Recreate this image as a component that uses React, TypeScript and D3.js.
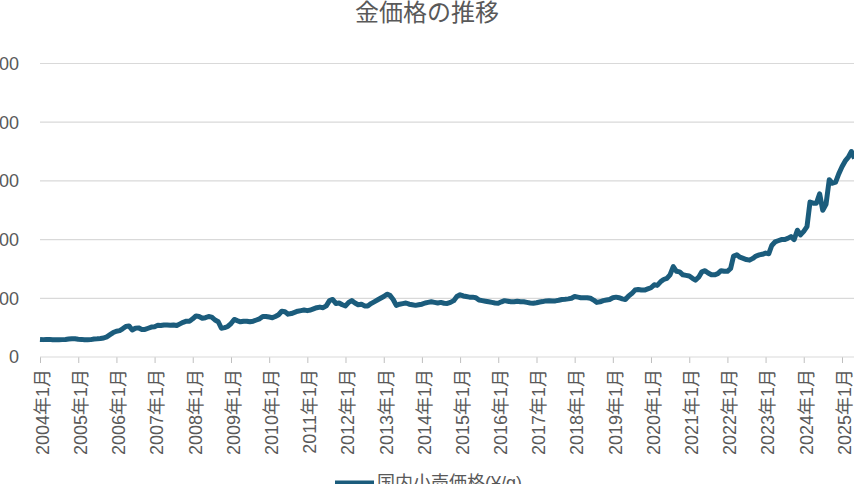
import React, { useEffect, useRef } from 'react';
import * as d3 from 'd3';

const TITLE = '金価格の推移';
const SERIES_NAME = '国内小売価格(¥/g)';
const START_YEAR = 2004;
const YEAR_TICKS = d3.range(2004, 2026);
const Y_TICKS = [0, 5000, 10000, 15000, 20000, 25000];

// monthly retail gold price (yen / gram), Jan..Dec, one array per year
const P2004 = [1500, 1480, 1490, 1500, 1470, 1460, 1470, 1480, 1490, 1530, 1560, 1560];
const P2005 = [1520, 1500, 1470, 1470, 1480, 1530, 1550, 1580, 1620, 1720, 1900, 2080];
const P2006 = [2200, 2250, 2400, 2600, 2650, 2300, 2450, 2480, 2350, 2350, 2450, 2550];
const P2007 = [2580, 2700, 2680, 2730, 2720, 2700, 2730, 2680, 2820, 2950, 3050, 3050];
const P2008 = [3250, 3500, 3450, 3300, 3350, 3450, 3400, 3150, 3000, 2450, 2500, 2600];
const P2009 = [2850, 3200, 3100, 3000, 3050, 3050, 3000, 3050, 3150, 3250, 3450, 3450];
const P2010 = [3400, 3350, 3450, 3600, 3900, 3850, 3650, 3700, 3800, 3900, 3950, 4000];
const P2011 = [3950, 4000, 4100, 4200, 4250, 4200, 4350, 4800, 4900, 4550, 4600, 4450];
const P2012 = [4350, 4650, 4800, 4600, 4450, 4500, 4350, 4350, 4550, 4700, 4850, 5000];
const P2013 = [5150, 5350, 5250, 4900, 4400, 4500, 4550, 4600, 4500, 4450, 4400, 4450];
const P2014 = [4500, 4600, 4650, 4700, 4650, 4600, 4650, 4580, 4560, 4650, 4800, 5150];
const P2015 = [5300, 5200, 5150, 5100, 5100, 5050, 4850, 4800, 4750, 4700, 4650, 4600];
const P2016 = [4580, 4700, 4800, 4750, 4700, 4700, 4750, 4700, 4700, 4650, 4600, 4580];
const P2017 = [4620, 4680, 4720, 4780, 4800, 4780, 4780, 4830, 4900, 4920, 4950, 5000];
const P2018 = [5150, 5100, 5050, 5050, 5050, 5000, 4850, 4650, 4700, 4800, 4850, 4900];
const P2019 = [5050, 5100, 5050, 4950, 4900, 5200, 5400, 5700, 5750, 5700, 5700, 5800];
const P2020 = [5900, 6150, 6100, 6400, 6600, 6700, 7000, 7700, 7300, 7250, 7000, 6950];
const P2021 = [6900, 6700, 6550, 6800, 7250, 7350, 7150, 7000, 7000, 7100, 7350, 7300];
const P2022 = [7300, 7550, 8600, 8700, 8500, 8400, 8300, 8250, 8400, 8600, 8700, 8750];
const P2023 = [8850, 8800, 9500, 9800, 9900, 10000, 10000, 10100, 10250, 10000, 10800, 10400];
const P2024 = [10700, 11100, 13200, 13100, 13100, 13900, 12500, 13000, 15100, 14800, 14900, 15600];
const P2025 = [16200, 16700, 17000, 17500, 16900];

const PRICES = [
  P2004, P2005, P2006, P2007, P2008, P2009, P2010, P2011, P2012, P2013, P2014,
  P2015, P2016, P2017, P2018, P2019, P2020, P2021, P2022, P2023, P2024, P2025,
];

const WIDTH = 854;
const HEIGHT = 484;
const LINE_COLOR = '#1b5c7c';
const TEXT_COLOR = '#595959';
const GRID_COLOR = '#d9d9d9';
const FONT = '"Liberation Sans", "Noto Sans CJK JP", sans-serif';

interface Point {
  date: Date;
  value: number;
}

const App: React.FC = () => {
  const svgRef = useRef<SVGSVGElement>(null);

  useEffect(() => {
    if (!svgRef.current) return;
    const svg = d3.select(svgRef.current);
    svg.selectAll('*').remove();

    const data: Point[] = PRICES.flatMap((row, i) =>
      row.map((value, m) => ({ date: new Date(START_YEAR + i, m, 1), value }))
    );

    const plotLeft = 40;
    const plotBottom = 357;

    const x = d3.scaleTime()
      .domain([new Date(2004, 0, 1), new Date(2025, 0, 1)])
      .range([plotLeft, 842]);

    const y = d3.scaleLinear()
      .domain([0, 25000])
      .range([plotBottom, 63.5]);

    // title
    svg.append('text')
      .attr('x', WIDTH / 2)
      .attr('y', 21)
      .attr('text-anchor', 'middle')
      .attr('font-family', '"Noto Sans CJK JP", sans-serif')
      .attr('font-size', 24)
      .attr('fill', TEXT_COLOR)
      .text(TITLE);

    // horizontal gridlines
    svg.append('g')
      .selectAll('line')
      .data(Y_TICKS.filter(t => t > 0))
      .join('line')
      .attr('x1', plotLeft)
      .attr('x2', WIDTH)
      .attr('y1', d => y(d))
      .attr('y2', d => y(d))
      .attr('stroke', GRID_COLOR)
      .attr('stroke-width', 1.2);

    // y labels (partly cut by the left edge, as in the source)
    svg.append('g')
      .selectAll('text')
      .data(Y_TICKS)
      .join('text')
      .attr('x', 19)
      .attr('y', d => y(d))
      .attr('dy', '0.35em')
      .attr('text-anchor', 'end')
      .attr('font-family', FONT)
      .attr('font-size', 18)
      .attr('fill', TEXT_COLOR)
      .text(d => String(d));

    // x axis
    const xAxis = d3.axisBottom(x)
      .tickValues(YEAR_TICKS.map(yr => new Date(yr, 0, 1)))
      .tickSize(6)
      .tickFormat(d => `${(d as Date).getFullYear()}年1月`);

    const axisG = svg.append('g')
      .attr('transform', `translate(0,${plotBottom})`)
      .call(xAxis);

    axisG.select('.domain').remove();
    axisG.append('line')
      .attr('x1', plotLeft)
      .attr('x2', WIDTH)
      .attr('stroke', GRID_COLOR)
      .attr('stroke-width', 1.2);
    axisG.selectAll('.tick line')
      .attr('stroke', '#bfbfbf');
    axisG.selectAll('.tick text')
      .attr('transform', 'rotate(-90)')
      .attr('text-anchor', 'end')
      .attr('x', -12)
      .attr('y', 2)
      .attr('dy', '0.35em')
      .attr('font-family', FONT)
      .attr('font-size', 18)
      .attr('fill', TEXT_COLOR);

    // price line
    const line = d3.line<Point>()
      .x(d => x(d.date))
      .y(d => y(d.value));

    svg.append('path')
      .datum(data)
      .attr('d', line)
      .attr('fill', 'none')
      .attr('stroke', LINE_COLOR)
      .attr('stroke-width', 5)
      .attr('stroke-linejoin', 'round');

    // legend
    const legend = svg.append('g');
    legend.append('line')
      .attr('x1', 335)
      .attr('x2', 374)
      .attr('y1', 483)
      .attr('y2', 483)
      .attr('stroke', LINE_COLOR)
      .attr('stroke-width', 5);
    legend.append('text')
      .attr('x', 377)
      .attr('y', 489)
      .attr('font-family', FONT)
      .attr('font-size', 18)
      .attr('fill', TEXT_COLOR)
      .text(SERIES_NAME);
  }, []);

  return (
    <svg
      ref={svgRef}
      width={WIDTH}
      height={HEIGHT}
      style={{ position: 'absolute', left: 0, top: 0, background: '#fff' }}
    />
  );
};

export default App;
